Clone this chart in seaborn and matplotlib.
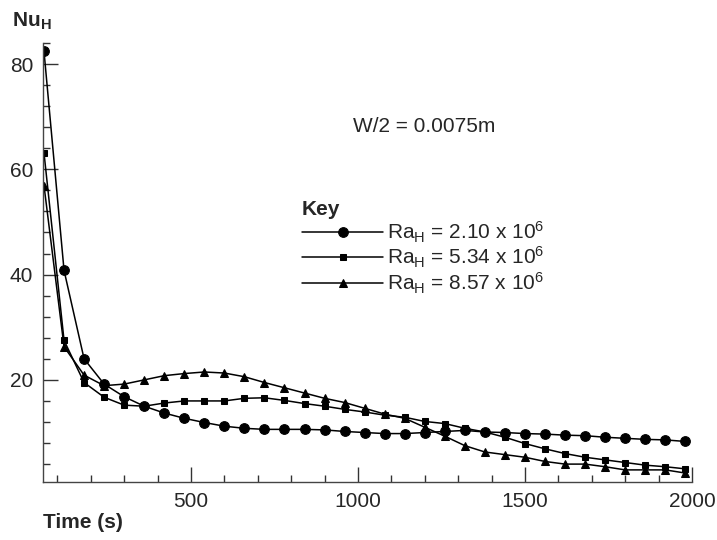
import numpy as np
import pandas as pd
import matplotlib
matplotlib.use("Agg")
import matplotlib.pyplot as plt
import seaborn as sns
from matplotlib.ticker import MultipleLocator

# ---- data ----
time_s = [60, 120, 180, 240, 300, 360, 420, 480, 540, 600, 660, 720,
          780, 840, 900, 960, 1020, 1080, 1140, 1200, 1260, 1320, 1380,
          1440, 1500, 1560, 1620, 1680, 1740, 1800, 1860, 1920, 1980]

nu_ra210 = [82.4, 40.8, 24.0, 19.2, 16.8, 15.0, 13.7, 12.7, 11.9, 11.2, 10.8, 10.6,
            10.6, 10.6, 10.5, 10.2, 10.0, 9.8, 9.8, 10.0, 10.2, 10.4, 10.1,
            10.0, 9.8, 9.7, 9.5, 9.4, 9.1, 8.9, 8.7, 8.6, 8.3]

nu_ra534 = [63.1, 27.5, 19.5, 16.7, 15.2, 15.0, 15.6, 16.0, 16.0, 16.0, 16.5, 16.6,
            16.1, 15.5, 15.0, 14.4, 13.9, 13.3, 12.9, 12.1, 11.7, 10.8, 10.1,
            9.1, 7.9, 6.9, 6.0, 5.3, 4.8, 4.3, 3.8, 3.5, 3.1]

nu_ra857 = [56.9, 26.3, 20.9, 18.9, 19.2, 20.0, 20.8, 21.2, 21.5, 21.3, 20.6, 19.5,
            18.5, 17.5, 16.5, 15.7, 14.6, 13.5, 12.7, 11.0, 9.3, 7.5, 6.3,
            5.8, 5.3, 4.5, 4.0, 4.0, 3.5, 2.9, 2.9, 2.9, 2.3]

series_labels = [r'Ra$_\mathregular{H}$ = 2.10 x 10$^\mathregular{6}$',
                 r'Ra$_\mathregular{H}$ = 5.34 x 10$^\mathregular{6}$',
                 r'Ra$_\mathregular{H}$ = 8.57 x 10$^\mathregular{6}$']
x_ticks = [500, 1000, 1500, 2000]
y_ticks = [20, 40, 60, 80]

# ---- style ----
sns.set_style("ticks")
plt.rcParams['font.family'] = ['Liberation Sans', 'DejaVu Sans']
plt.rcParams['mathtext.fontset'] = 'custom'
plt.rcParams['mathtext.rm'] = 'Liberation Sans'
plt.rcParams['mathtext.it'] = 'Liberation Sans:italic'
plt.rcParams['mathtext.bf'] = 'Liberation Sans:bold'

FS = 15

fig = plt.figure(figsize=(7.17, 5.40), dpi=100)
ax = fig.add_axes([43/717, 1-482/540, (692-43)/717, (482-43)/540])

df = pd.DataFrame({
    'Time': time_s * 3,
    'Nu': nu_ra210 + nu_ra534 + nu_ra857,
    'Series': [series_labels[0]] * len(time_s) + [series_labels[1]] * len(time_s)
              + [series_labels[2]] * len(time_s),
})

markers = ['o', 's', '^']
msizes = [7, 5, 5.5]
for lab, mk, ms in zip(series_labels, markers, msizes):
    sns.lineplot(data=df[df['Series'] == lab], x='Time', y='Nu', ax=ax,
                 color='black', marker=mk, markersize=ms, linewidth=1.1,
                 markeredgecolor='black', markerfacecolor='black',
                 label=lab, legend=False)

ax.set_xlim(57, 2000)
ax.set_ylim(0.6, 84)
ax.set_xticks(x_ticks)
ax.set_yticks(y_ticks)
ax.xaxis.set_minor_locator(MultipleLocator(100))
ax.yaxis.set_minor_locator(MultipleLocator(4))
ax.tick_params(which='major', direction='in', length=11, width=1, color='#333333',
               labelsize=FS, pad=7)
ax.tick_params(which='minor', direction='in', length=5, width=1, color='#333333')
ax.set_xlabel('')
ax.set_ylabel('')
for s in ['top', 'right']:
    ax.spines[s].set_visible(False)
for s in ['left', 'bottom']:
    ax.spines[s].set_color('#444444')
    ax.spines[s].set_linewidth(1.0)

fig.text(12/717, 1-21/540, r'Nu$_\mathbf{H}$', fontsize=FS, fontweight='bold',
         ha='left', va='center')
fig.text(43/717, 1-523/540, 'Time (s)', fontsize=FS, fontweight='bold',
         ha='left', va='center')
fig.text(424/717, 1-126/540, 'W/2 = 0.0075m', fontsize=FS, ha='center', va='center')

handles, labels = ax.get_legend_handles_labels()
leg = ax.legend(handles, labels, title='Key', loc='upper left',
                bbox_to_anchor=(302/717, 1-200/540), bbox_transform=fig.transFigure,
                frameon=False, fontsize=FS, handlelength=3.9, handletextpad=0.2,
                labelspacing=0.02, borderpad=0, borderaxespad=0, numpoints=1,
                alignment='left', title_fontproperties={'weight': 'bold', 'size': FS})

fig.savefig('out.png', dpi=100, facecolor='white')
